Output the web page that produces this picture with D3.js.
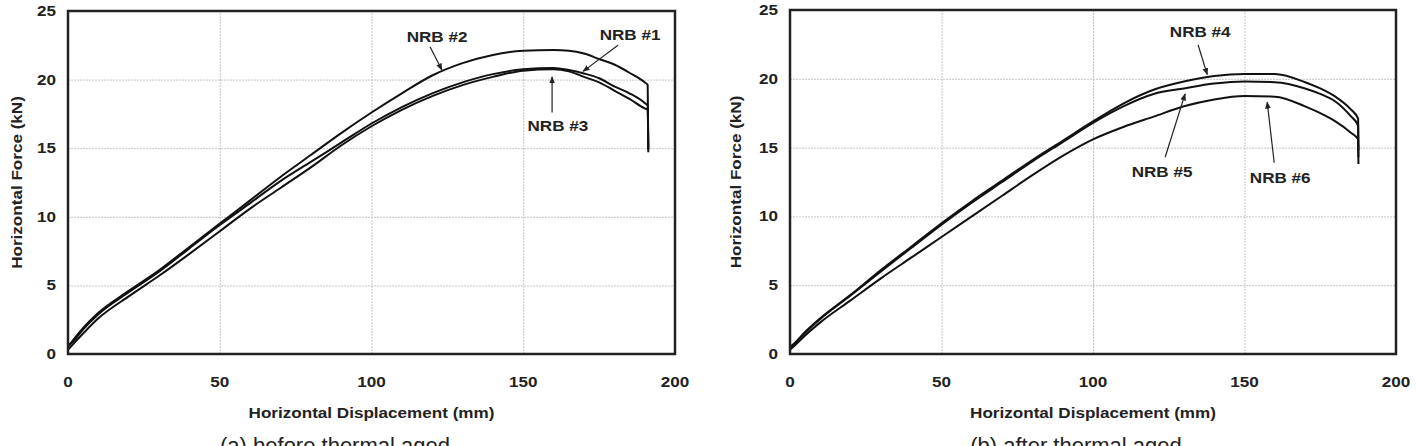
<!DOCTYPE html>
<html>
<head>
<meta charset="utf-8">
<script src="https://cdn.jsdelivr.net/npm/d3@7"></script>
<style>
  body { margin: 0; background: #fff; }
  svg { display: block; font-family: "Liberation Sans", Arial, sans-serif; }
  .grid line { stroke: #c4c4c4; stroke-width: 1; stroke-dasharray: 2 1; }
  .grid .domain { display: none; }
  .tick-label { font-size: 14px; font-weight: bold; fill: #222; }
  .axis-label { font-size: 14px; font-weight: bold; fill: #222; }
  .curve { fill: none; stroke: #111; stroke-width: 2; stroke-linejoin: round; }
  .frame { fill: none; stroke: #222; stroke-width: 2.5; }
  .note { font-size: 14px; font-weight: bold; fill: #222; }
  .arrow { stroke: #222; stroke-width: 1.2; }
  .caption { font-size: 22px; fill: #222; }
</style>
</head>
<body>
<div id="wrapper"></div>
<script>

// 1. Access data

const xTicks = [0, 50, 100, 150, 200]
const yTicks = [0, 5, 10, 15, 20, 25]

// panel (a): before thermal aged
const dispA = [0, 2, 5, 10, 20, 30, 40, 50, 60, 70, 80, 90, 100, 110, 120, 130, 140, 150, 160, 165, 170, 175, 180, 185, 190, 191, 191.2]
const nrb1 = [0.6, 1.0, 1.8, 2.9, 4.5, 6.0, 7.7, 9.4, 11.0, 12.6, 14.0, 15.4, 16.8, 18.0, 19.0, 19.8, 20.4, 20.75, 20.85, 20.7, 20.45, 20.1, 19.5, 19.0, 18.3, 18.1, 14.9]
const nrb2 = [0.5, 1.1, 1.9, 3.0, 4.6, 6.1, 7.8, 9.5, 11.2, 12.9, 14.5, 16.1, 17.6, 19.0, 20.3, 21.2, 21.8, 22.1, 22.15, 22.1, 21.9, 21.5, 21.1, 20.5, 19.8, 19.6, 15.0]
const nrb3 = [0.3, 0.8, 1.5, 2.6, 4.2, 5.7, 7.3, 8.95, 10.6, 12.1, 13.6, 15.2, 16.6, 17.8, 18.8, 19.6, 20.2, 20.65, 20.75, 20.6, 20.2, 19.8, 19.2, 18.6, 17.9, 17.8, 14.7]

// panel (b): after thermal aged
const dispB = [0, 2, 5, 10, 20, 30, 40, 50, 60, 70, 80, 90, 100, 110, 120, 130, 140, 150, 160, 170, 175, 180, 185, 187.5, 187.6]
const nrb4 = [0.5, 0.9, 1.6, 2.6, 4.3, 6.1, 7.8, 9.5, 11.1, 12.6, 14.1, 15.5, 16.9, 18.2, 19.2, 19.8, 20.2, 20.35, 20.35, 19.75, 19.3, 18.7, 17.8, 17.1, 14.8]
const nrb5 = [0.4, 0.85, 1.55, 2.55, 4.25, 6.0, 7.7, 9.4, 11.0, 12.5, 14.0, 15.4, 16.8, 18.0, 18.9, 19.3, 19.65, 19.8, 19.75, 19.3, 18.9, 18.35, 17.3, 16.6, 14.3]
const nrb6 = [0.3, 0.7, 1.35, 2.3, 3.9, 5.5, 7.0, 8.5, 10.0, 11.5, 13.0, 14.4, 15.6, 16.5, 17.25, 18.0, 18.5, 18.75, 18.7, 18.0, 17.5, 16.9, 16.1, 15.6, 13.8]

// labels: [text, label x, label y, arrow start x, y, arrow tip x, y] in data units
const notesA = [
  ["NRB #2", 121.6, 23.1, 119.3, 22.4, 123.2, 20.7],
  ["NRB #1", 185.2, 23.25, 181.2, 22.5, 169.7, 20.6],
  ["NRB #3", 161.4, 16.6, 159.5, 17.6, 159.5, 20.2],
]
const notesB = [
  ["NRB #4", 135.4, 23.4, 134.7, 22.46, 137.7, 20.3],
  ["NRB #5", 122.8, 13.2, 123.8, 14.3, 130.4, 18.9],
  ["NRB #6", 161.8, 12.8, 159.8, 13.9, 157.5, 18.3],
]

const xLabel = "Horizontal Displacement (mm)"
const yLabel = "Horizontal Force (kN)"

// 2. Create chart dimensions

const dimensions = {
  width: 1416,
  height: 446,
  textStretch: 1.22,
}

const panels = [
  { left: 68, right: 675, top: 11, bottom: 354, yLabelOffset: 51,
    disp: dispA, series: [nrb1, nrb2, nrb3], notes: notesA,
    caption: "(a) before thermal aged", captionX: 335 },
  { left: 790, right: 1396, top: 10, bottom: 354, yLabelOffset: 54,
    disp: dispB, series: [nrb4, nrb5, nrb6], notes: notesB,
    caption: "(b) after thermal aged", captionX: 1076 },
]

// 3. Draw canvas

const wrapper = d3.select("#wrapper")
  .append("svg")
    .attr("width", dimensions.width)
    .attr("height", dimensions.height)

wrapper.append("rect")
    .attr("width", dimensions.width)
    .attr("height", dimensions.height)
    .attr("fill", "#fff")

const defs = wrapper.append("defs")
defs.append("marker")
    .attr("id", "head")
    .attr("viewBox", "0 0 10 10")
    .attr("refX", 9)
    .attr("refY", 5)
    .attr("markerWidth", 6)
    .attr("markerHeight", 6)
    .attr("orient", "auto")
  .append("path")
    .attr("d", "M0,1 L10,5 L0,9 Z")
    .attr("fill", "#222")

panels.forEach(drawPanel)

// the original figure's bold labels are set a bit wider than Arial
wrapper.selectAll(".tick-label, .axis-label, .note")
  .each(function() {
    const len = this.getComputedTextLength()
    d3.select(this)
      .attr("textLength", len * dimensions.textStretch)
      .attr("lengthAdjust", "spacingAndGlyphs")
  })

function drawPanel(p) {

  // 4. Create scales

  const xScale = d3.scaleLinear()
    .domain([0, 200])
    .range([p.left, p.right])

  const yScale = d3.scaleLinear()
    .domain([0, 25])
    .range([p.bottom, p.top])

  const bounds = wrapper.append("g")

  // grid marks
  bounds.append("g")
      .attr("class", "grid")
      .attr("transform", `translate(0, ${p.bottom})`)
    .call(d3.axisBottom(xScale).tickValues(xTicks).tickSize(-(p.bottom - p.top)).tickFormat(""))

  bounds.append("g")
      .attr("class", "grid")
      .attr("transform", `translate(${p.left}, 0)`)
    .call(d3.axisLeft(yScale).tickValues(yTicks).tickSize(-(p.right - p.left)).tickFormat(""))

  // 5. Draw data

  const lineGenerator = d3.line()
    .x((d, i) => xScale(p.disp[i]))
    .y(d => yScale(d))
    .curve(d3.curveMonotoneX)

  bounds.selectAll(".curve")
    .data(p.series)
    .enter().append("path")
      .attr("class", "curve")
      .attr("d", d => lineGenerator(d))

  // 6. Draw peripherals

  bounds.append("rect")
      .attr("class", "frame")
      .attr("x", p.left)
      .attr("y", p.top)
      .attr("width", p.right - p.left)
      .attr("height", p.bottom - p.top)

  bounds.selectAll(".x-tick")
    .data(xTicks)
    .enter().append("text")
      .attr("class", "tick-label")
      .attr("x", d => xScale(d))
      .attr("y", p.bottom + 33)
      .attr("text-anchor", "middle")
      .text(d => d)

  bounds.selectAll(".y-tick")
    .data(yTicks)
    .enter().append("text")
      .attr("class", "tick-label")
      .attr("x", p.left - 12)
      .attr("y", d => yScale(d) + 5)
      .attr("text-anchor", "end")
      .text(d => d)

  bounds.append("text")
      .attr("class", "axis-label")
      .attr("x", (p.left + p.right) / 2)
      .attr("y", p.bottom + 64)
      .attr("text-anchor", "middle")
      .text(xLabel)

  bounds.append("text")
      .attr("class", "axis-label")
      .attr("transform", `translate(${p.left - p.yLabelOffset + 5}, ${(p.top + p.bottom) / 2}) rotate(-90)`)
      .attr("text-anchor", "middle")
      .text(yLabel)

  // annotations
  const notes = bounds.selectAll(".note-group")
    .data(p.notes)
    .enter().append("g")

  notes.append("line")
      .attr("class", "arrow")
      .attr("x1", d => xScale(d[3]))
      .attr("y1", d => yScale(d[4]))
      .attr("x2", d => xScale(d[5]))
      .attr("y2", d => yScale(d[6]))
      .attr("marker-end", "url(#head)")

  notes.append("text")
      .attr("class", "note")
      .attr("x", d => xScale(d[1]))
      .attr("y", d => yScale(d[2]) + 5)
      .attr("text-anchor", "middle")
      .text(d => d[0])

  bounds.append("text")
      .attr("class", "caption")
      .attr("x", p.captionX)
      .attr("y", 453)
      .attr("text-anchor", "middle")
      .text(p.caption)
}
</script>
</body>
</html>
